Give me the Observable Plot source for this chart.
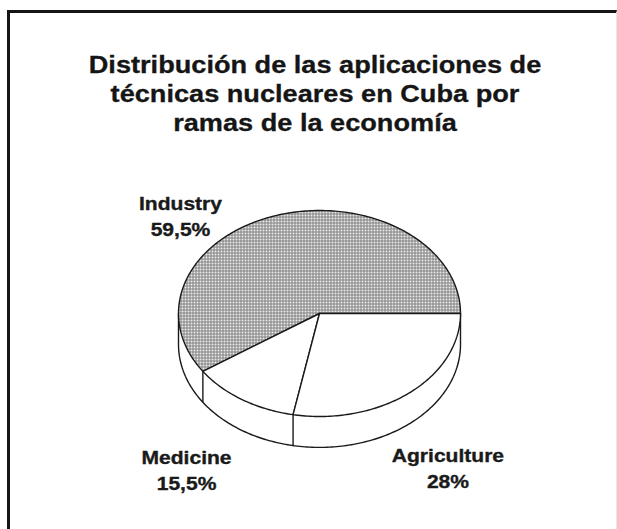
<!DOCTYPE html>
<html>
<head>
<meta charset="utf-8">
<script src="https://cdn.jsdelivr.net/npm/d3@7"></script>
<script src="https://cdn.jsdelivr.net/npm/@observablehq/plot@0.6"></script>
<style>
  html, body { margin: 0; padding: 0; background: #fff; }
  body { width: 617px; height: 529px; overflow: hidden; position: relative; }
  #frame {
    position: absolute; left: 7px; top: 10px; width: 606px; height: 580px;
    border-left: 3px solid #151515; border-top: 3px solid #151515; border-right: 1px solid #e6e6e6;
  }
  #title {
    position: absolute; left: 0; top: 51px; width: 630px; text-align: center;
    font-family: "Liberation Sans", Arial, Helvetica, sans-serif; font-weight: bold;
    font-size: 23px; line-height: 29px; color: #151515;
    transform: scaleX(1.18); transform-origin: 315px 0;
    -webkit-text-stroke: 0.3px #151515;
  }
  #chart { position: absolute; left: 0; top: 0; }
</style>
</head>
<body>
<div id="frame"></div>
<div id="title">Distribución de las aplicaciones de<br>técnicas nucleares en Cuba por<br>ramas de la economía</div>
<div id="chart"></div>
<script>
// ---- data ----
const categories = ["Industry", "Medicine", "Agriculture"];
const shares = [59.5, 15.5, 28];
const shareLabels = ["59,5%", "15,5%", "28%"];

// ---- layout (not data) ----
const depth = 0.30;                       // pie thickness, in radius units of the y scale
const labelAt = {                         // label anchors in pie units
  Industry:    [-0.986, 0.964],
  Medicine:    [-0.943, -1.502],
  Agriculture: [0.911, -1.49]
};

// As drawn in the original: Industry runs counter-clockwise from 3 o'clock,
// Agriculture clockwise from 3 o'clock, Medicine takes what lies between.
const indSpan = shares[0] * 3.6;
const agrSpan = shares[2] * 3.6;
const slices = [
  {name: categories[0], a0: 0, a1: indSpan, fill: "url(#hatch)"},
  {name: categories[1], a0: indSpan, a1: 360 - agrSpan, fill: "white"},
  {name: categories[2], a0: 360 - agrSpan, a1: 360, fill: "white"}
];

const rad = d => d * Math.PI / 180;
function arc(a0, a1, dy = 0) {
  const n = Math.max(2, Math.ceil(Math.abs(a1 - a0)));
  return d3.range(n + 1).map(i => {
    const a = rad(a0 + (a1 - a0) * i / n);
    return {x: Math.cos(a), y: Math.sin(a) + dy};
  });
}

const sideFill = [...arc(180, 360), ...arc(360, 180, -depth)];
const sideOutline = [{x: -1, y: 0}, ...arc(180, 360, -depth), {x: 1, y: 0}];
const edges = slices.map(s => s.a0).filter(a => a > 180 && a < 360).map(a => ({
  x: Math.cos(rad(a)), y1: Math.sin(rad(a)), y2: Math.sin(rad(a)) - depth
}));
const labels = categories.map((c, i) => ({
  text: c + "\n" + shareLabels[i], x: labelAt[c][0], y: labelAt[c][1]
}));

const ink = "#1a1a1a";
const plot = Plot.plot({
  width: 617,
  height: 529,
  margin: 0,
  x: {domain: [-1, 1], range: [178, 460], axis: null},
  y: {domain: [-1, 1], range: [416, 210], axis: null},
  style: {background: "transparent", fontFamily: "'Liberation Sans', Arial, Helvetica, sans-serif", color: ink},
  marks: [
    Plot.line(sideFill, {x: "x", y: "y", curve: "linear-closed", fill: "white", stroke: "none"}),
    Plot.line(sideOutline, {x: "x", y: "y", stroke: ink, strokeWidth: 1.4}),
    Plot.link(edges, {x1: "x", x2: "x", y1: "y1", y2: "y2", stroke: ink, strokeWidth: 1.4}),
    ...slices.map(s => Plot.line([{x: 0, y: 0}, ...arc(s.a0, s.a1)], {
      x: "x", y: "y", curve: "linear-closed", fill: s.fill, stroke: ink, strokeWidth: 1.4, strokeLinejoin: "round"
    })),
    Plot.text(labels, {x: "x", y: "y", text: "text", fontSize: 18, fontWeight: "bold", lineHeight: 1.45,
      fill: ink, stroke: ink, strokeWidth: 0.35})
  ]
});

// widen the lettering like the original typesetting
d3.select(plot).selectAll("text").each(function() {
  const t = this.getAttribute("transform");
  if (t) this.setAttribute("transform", t + " scale(1.17,1)");
});

const defs = d3.select(plot).insert("defs", ":first-child");
const pat = defs.append("pattern").attr("id", "hatch").attr("patternUnits", "userSpaceOnUse")
  .attr("width", 3).attr("height", 3);
pat.append("rect").attr("width", 3).attr("height", 3).attr("fill", "#ececec");
pat.append("path").attr("d", "M0 0.5H3M0.5 0V3").attr("stroke", "#808080").attr("stroke-width", 1);

document.getElementById("chart").appendChild(plot);
</script>
</body>
</html>
